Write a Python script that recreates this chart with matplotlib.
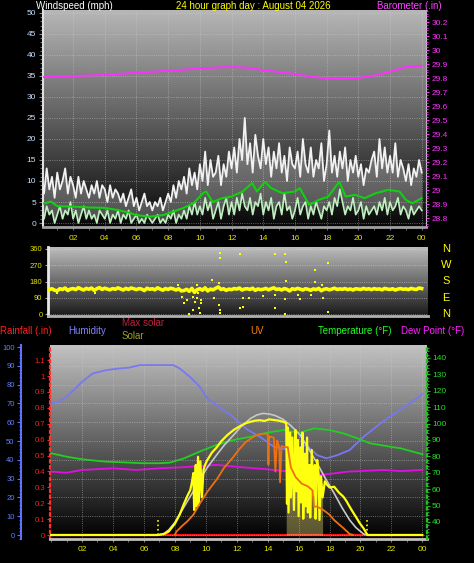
import numpy as np
import matplotlib
matplotlib.use("Agg")
import matplotlib.pyplot as plt
from matplotlib.ticker import MultipleLocator

plt.rcParams['font.family'] = ['Liberation Sans', 'DejaVu Sans']

W, H = 474, 563

# ---------------- data ----------------
# wind, 10 minute samples from 00:00 to 24:00 (mph)
gust = [10, 7, 13, 8, 11, 6, 12, 8, 10, 13, 7, 11, 9, 6, 11, 7, 10, 8,
        6, 9, 7, 10, 6, 9, 8, 5, 9, 6, 8, 7, 5, 7, 4, 6, 8, 4,
        6, 3, 5, 7, 4, 5, 3, 5, 4, 6, 3, 5, 7, 5, 9, 6, 10, 8,
        11, 7, 13, 9, 12, 8, 14, 10, 17, 9, 15, 11, 12, 16, 9, 14, 11, 17,
        13, 18, 12, 20, 15, 25, 14, 19, 12, 21, 16, 13, 20, 14, 18, 11, 17, 13,
        19, 12, 16, 10, 18, 14, 13, 17, 11, 20, 14, 12, 18, 11, 15, 13, 19, 10,
        14, 22, 12, 16, 11, 17, 13, 18, 10, 15, 12, 16, 11, 14, 9, 13, 12, 15,
        17, 11, 20, 13, 18, 12, 16, 12, 19, 11, 15, 13, 10, 14, 9, 13, 11, 15, 12]
wind = [3, 1, 4, 2, 3, 0, 2, 4, 1, 3, 2, 5, 1, 3, 0, 2, 4, 1,
        3, 1, 2, 0, 3, 2, 1, 3, 0, 2, 1, 3, 0, 2, 1, 3, 0, 1,
        2, 0, 1, 0, 2, 1, 0, 1, 2, 0, 1, 0, 2, 1, 3, 0, 2, 1,
        3, 1, 4, 2, 5, 2, 4, 2, 6, 3, 5, 1, 3, 5, 1, 4, 6, 2,
        5, 2, 6, 3, 7, 4, 3, 6, 2, 5, 4, 7, 2, 5, 3, 6, 1, 4,
        5, 2, 7, 3, 4, 1, 3, 6, 2, 4, 5, 1, 4, 2, 5, 3, 1, 4,
        3, 5, 2, 6, 4, 8, 5, 2, 4, 3, 6, 2, 3, 5, 1, 4, 2, 3,
        4, 2, 5, 3, 6, 2, 5, 3, 4, 6, 2, 4, 3, 1, 4, 2, 3, 4, 3]
t10 = np.arange(len(gust)) / 6.0

avg_t = [0, 0.6, 1, 2, 3, 4, 4.8, 5.5, 6, 6.8, 7.7, 8.3, 8.9, 9.6, 10.2, 10.4, 10.8,
         11.4, 12.0, 12.7, 13.3, 13.6, 14.1, 14.5, 15.2, 16, 16.3, 16.9, 17.5, 18.1,
         18.8, 19.2, 19.8, 20.4, 21.1, 21.9, 22.6, 23, 23.4, 24]
avg_v = [4.5, 5.1, 4.0, 3.9, 3.7, 3.6, 3.1, 2.5, 1.9, 1.5, 1.9, 2.7, 3.5, 4.7, 7.1, 7.5, 5.0,
         5.9, 6.3, 7.5, 9.5, 7.5, 9.8, 8.3, 7.1, 7.5, 8.3, 4.3, 5.5, 6.3,
         9.8, 6.3, 6.7, 5.9, 7.1, 7.9, 7.5, 5.5, 4.7, 5.9]

# barometer hourly (in)
baro_t = list(range(25))
baro = [29.807, 29.812, 29.815, 29.818, 29.822, 29.830, 29.838, 29.845, 29.852,
        29.860, 29.869, 29.875, 29.879, 29.874, 29.857, 29.843, 29.829, 29.810,
        29.798, 29.795, 29.800, 29.819, 29.845, 29.879, 29.888]

# wind direction, 10 minute samples (deg)
wdir = [142, 138, 145, 135, 140, 132, 128, 140, 136, 144, 130, 138,
        141, 135, 146, 139, 133, 142, 137, 144, 131, 140, 146, 136,
        143, 138, 134, 141, 137, 145, 139, 133, 142, 136, 144, 140,
        135, 141, 138, 130, 143, 137, 140, 134, 145, 138, 132, 141,
        136, 143, 139, 133, 140, 128, 130, 137, 126, 142, 120, 135,
        140, 132, 145, 128, 138, 134, 142, 150, 136, 140, 131, 138,
        135, 141, 138, 144, 133, 139, 140, 136, 143, 131, 139, 135,
        137, 142, 134, 140, 145, 136, 139, 133, 141, 137, 128, 140,
        136, 142, 138, 133, 140, 137, 131, 139, 135, 142, 129, 137,
        140, 134, 138, 143, 136, 139, 137, 141, 135, 139, 133, 140,
        138, 136, 142, 137, 140, 135, 141, 137, 139, 134, 142, 138,
        136, 140, 133, 138, 141, 137, 139, 135, 142, 138, 136, 144, 141]
# scattered direction readings
odir_t = [11.27, 11.27, 12.53, 14.73, 15.36, 15.45, 18.1, 17.3, 10.8, 11.2, 15.45,
          17.3, 17.7, 8.6, 9.8, 8.9, 9.0, 9.3, 9.6, 9.7, 9.8, 9.95, 10.0, 10.1,
          9.6, 9.9, 10.1, 9.2, 10.9, 11.2, 11.3, 11.3, 12.55, 12.7, 12.7, 13.1,
          14.0, 14.75, 14.73, 15.36, 15.38, 16.2, 16.3, 17.0, 17.8, 18.1, 1.0, 3.4]
odir_v = [340, 311, 333, 333, 333, 289, 285, 244, 189, 174, 183,
          178, 163, 163, 163, 96, 63, 0, 22, 68, 89, 35, 4, 59,
          96, 115, 78, 78, 87, 50, 22, 7, 31, 41, 87, 87,
          102, 35, 107, 81, 0, 107, 85, 107, 87, 13, 115, 118]

# bottom panel
hum_t = [0, 0.5, 0.9, 1.45, 2.0, 2.7, 3.6, 4.5, 5.0, 5.75, 7.9, 8.3, 9.0, 9.6, 10.1,
         10.7, 11.2, 11.6, 12.0, 12.7, 13.5, 14.4, 14.9, 15.5, 16.0, 16.5, 17.2, 17.8,
         18.5, 19.3, 20.2, 21.3, 21.9, 23.0, 24]
hum = [70, 71, 73, 77, 81.5, 86, 87.8, 88.7, 89, 90.4, 90.4, 88.7, 84, 79, 72.7,
       69, 66, 64, 61, 56, 52.3, 47, 46, 45.2, 46.5, 47.9, 42.5, 40.8,
       42.5, 45.2, 52.3, 59.4, 63, 69, 75]
temp_t = [0, 1, 2, 3.5, 5, 6, 7.0, 7.7, 8.6, 9.6, 10.7, 11.8, 12.9, 14, 15, 15.6,
          16.1, 17, 18, 18.9, 19.8, 20.6, 21.9, 22.6, 24]
temp = [81.9, 79.8, 78.2, 76.8, 76.2, 75.8, 75.8, 76.2, 78.8, 82.9, 87, 90, 92, 94.5,
        96, 95, 94.5, 97.1, 96, 94, 91, 88, 85.9, 84.9, 81.3]
dew_t = [0, 1, 2, 4, 5.5, 7, 8.6, 10.7, 12.3, 14, 16.1, 17.5, 19.2, 21.5, 22.6, 24]
dew = [70.7, 70, 71.7, 72.7, 71.7, 72.7, 73.4, 74.8, 73.4, 72.1, 70, 68.7, 70.7,
       71.7, 71, 71.7]
rain_t = [0, 24]
rain = [0, 0]
maxsol_t = [6.95, 7.3, 7.6, 8.0, 8.6, 9.1, 9.6, 10.1, 10.7, 11.2, 11.8, 12.3, 12.9,
            13.3, 13.7, 14.1, 14.5, 15.0, 15.5, 16.1, 16.6, 17.2, 17.7, 18.3, 18.8,
            19.3, 19.7, 20.2, 20.45]
maxsol = [0, 12, 40, 100, 226, 330, 440, 540, 640, 720, 800, 870, 933,
          960, 973, 968, 955, 925, 875, 800, 700, 573, 460, 333, 220,
          120, 60, 8, 0]
sol_t = [0, 6.9, 7.3, 7.6, 8.0, 8.3, 8.6, 8.8, 9.0, 9.1, 9.2, 9.25, 9.35, 9.4, 9.5,
         9.55, 9.65, 9.75, 9.85, 9.95, 10.1, 10.4, 10.7, 11.0, 11.4, 11.8, 12.2, 12.6,
         12.9, 13.2, 13.5, 13.8, 14.1, 14.4, 14.7, 15.0, 15.2, 15.25, 15.3, 15.35,
         15.45, 15.5, 15.6, 15.7, 15.8, 15.85, 15.95, 16.0, 16.1, 16.15, 16.25, 16.3,
         16.4, 16.45, 16.55, 16.6, 16.7, 16.75, 16.85, 16.95, 17.05, 17.1, 17.2, 17.3,
         17.35, 17.45, 17.55, 17.7, 17.85, 18.0, 18.3, 18.6, 18.9, 19.1, 19.3, 19.5,
         19.7, 19.95, 20.2, 20.45, 24]
sol = [0, 0, 8, 27, 90, 160, 253, 310, 360, 420, 496, 200, 560, 230, 626,
       240, 590, 300, 520, 560, 600, 660, 700, 750, 800, 840, 870, 895,
       906, 915, 918, 912, 925, 920, 915, 906, 895, 250, 860, 180,
       820, 300, 780, 200, 840, 350, 760, 150, 700, 260, 820, 130,
       650, 230, 780, 180, 560, 140, 680, 320, 560, 130, 600, 480,
       120, 470, 300, 430, 400, 380, 386, 340, 306, 270, 226, 185,
       146, 95, 53, 0, 0]
uv_t = [8.0, 8.1, 8.5, 8.8, 9.2, 9.6, 10.1, 10.7, 11.2, 11.8, 12.2, 12.6, 13.0, 13.3,
        13.7, 14.0, 14.05, 14.1, 14.4, 14.5, 14.6, 14.75, 14.8, 14.9, 15.1, 15.3, 15.5,
        15.8, 16.2, 16.6, 16.9, 17.0, 17.2, 17.6, 18.0, 18.3, 18.9, 19.3, 19.5]
uv = [0, 0.25, 0.7, 1.0, 1.5, 2.3, 3.2, 4.1, 5.0, 5.8, 6.4, 6.9, 7.2, 7.4,
      7.5, 7.5, 5.2, 7.3, 7.2, 4.7, 7.0, 6.5, 3.9, 6.6, 6.5, 6.5, 5.0,
      4.3, 3.8, 3.6, 3.3, 2.1, 2.1, 1.85, 1.5, 1.1, 0.5, 0.07, 0]
sunrise, sunset = 6.92, 20.44

hour_ticks = list(range(2, 25, 2))
hour_labels = ['%02d' % (h % 24) for h in hour_ticks]

# ---------------- figure ----------------
fig = plt.figure(figsize=(W / 100, H / 100), dpi=100, facecolor='black')


def px_axes(l, t, r, b):
    return fig.add_axes([l / W, 1 - b / H, (r - l) / W, (b - t) / H])


def gradient(ax, top, bottom):
    g = np.linspace(top, bottom, 256).reshape(-1, 1)
    ax.imshow(g, extent=[0, 1, 0, 1], transform=ax.transAxes, aspect='auto',
              cmap='gray', vmin=0, vmax=1, zorder=0, interpolation='bilinear')


def ftext(x, y, s, **kw):
    fig.text(x / W, 1 - y / H, s, va='center', **kw)


tick_fs = 6
xcol = '#e6e600'

# ---- top panel: wind speed + barometer ----
ax1 = px_axes(43, 10, 426, 227)
gradient(ax1, 0.72, 0.03)
ax1.fill_between(t10, wind, gust, color='white', alpha=0.28, lw=0, zorder=2)
ax1.plot(t10, gust, color='#f2f2f2', lw=1.3, zorder=3)
ax1.plot(t10, wind, color='#bff0bf', lw=1.2, zorder=4)
ax1.plot(avg_t, avg_v, color='#10d010', lw=1.5, zorder=5)
ax1.set_xlim(0.1, 24.27)
ax1.set_ylim(-0.95, 50.7)
ax1.yaxis.set_major_locator(MultipleLocator(5))
ax1.yaxis.set_minor_locator(MultipleLocator(1))
ax1.set_xticks(hour_ticks)
ax1.set_xticklabels(hour_labels)
ax1.xaxis.set_minor_locator(MultipleLocator(1))
ax1.tick_params(axis='y', colors='#8a8a8a', labelcolor='#c8e0ff', labelsize=tick_fs,
                length=3, width=0.8, pad=2)
ax1.tick_params(axis='y', which='minor', colors='#8a8a8a', length=2)
ax1.tick_params(axis='x', colors='#707070', labelcolor=xcol, labelsize=tick_fs,
                length=2, pad=4)
ax1.tick_params(axis='x', which='minor', colors='#707070', length=2)
ax1.grid(True, which='major', color='#d0d0d0', ls=':', lw=0.6, alpha=0.6)
ax1.spines['top'].set_visible(False)
ax1.spines['left'].set_color('#e0e0e0')
ax1.spines['left'].set_linewidth(1.5)
ax1.spines['bottom'].set_color('#a0a0a0')
ax1.spines['bottom'].set_linewidth(2)
ax1.spines['right'].set_color('#c0c0c0')

axb = ax1.twinx()
axb.plot(baro_t, baro, color='#ff30ff', lw=1.4)
axb.set_ylim(28.736, 30.286)
axb.set_yticks(np.arange(28.8, 30.25, 0.1))
axb.set_yticklabels(['%g' % round(v, 1) for v in np.arange(28.8, 30.25, 0.1)])
axb.yaxis.set_minor_locator(MultipleLocator(0.02))
axb.tick_params(axis='y', colors='#ff30ff', labelcolor='#ff30ff', labelsize=tick_fs,
                length=2, pad=2)
axb.tick_params(axis='y', which='minor', colors='#ff30ff', length=1.5)
for s in axb.spines.values():
    s.set_visible(False)

ftext(36, 6, 'Windspeed (mph)', color='white', fontsize=7)
ftext(176, 6, '24 hour graph day : August 04 2026', color='#ffff00', fontsize=7)
ftext(377, 6, 'Barometer (.in)', color='#ff40ff', fontsize=7)

# ---- wind direction panel ----
ax2 = px_axes(48, 247, 428, 316)
gradient(ax2, 0.74, 0.1)
ax2.plot(t10, wdir, color='#ffff00', lw=2.6, zorder=3)
ax2.scatter(t10, wdir, color='#ffff00', s=3, marker='s', lw=0, zorder=3)
ax2.scatter(odir_t, odir_v, color='#ffff00', s=3, marker='s', lw=0, zorder=3)
ax2.set_xlim(0.42, 24.4)
ax2.set_ylim(-11, 371)
ax2.set_yticks([0, 90, 180, 270, 360])
ax2.set_xticks([])
ax2.tick_params(axis='y', colors='#a0a0a0', labelcolor=xcol, labelsize=5.5,
                length=2, pad=2)
ax2.grid(True, axis='y', color='#e0e0e0', ls=':', lw=0.6, alpha=0.6)
ax2.spines['top'].set_visible(False)
ax2.spines['right'].set_visible(False)
ax2.spines['left'].set_color('#e8e8e8')
ax2.spines['left'].set_linewidth(2)
ax2.spines['bottom'].set_color('#b0b0b0')
ax2.spines['bottom'].set_linewidth(2)
for lab, y in zip(['N', 'W', 'S', 'E', 'N'], [249, 265, 281, 298, 314]):
    ftext(446, y, lab, color='#ffff00', fontsize=8, ha='center')

# ---- legend row ----
ftext(0, 331, 'Rainfall (.in)', color='#ff2020', fontsize=7)
ftext(68, 331, 'Humidity', color='#8080ff', fontsize=7)
ftext(122, 323, 'Max solar', color='#c0203c', fontsize=7)
ftext(122, 336, 'Solar', color='#a0a020', fontsize=7)
ftext(250, 331, 'UV', color='#ff8000', fontsize=7)
ftext(318, 331, 'Temperature (°F)', color='#20ff20', fontsize=7)
ftext(401, 331, 'Dew Point (°F)', color='#ff20ff', fontsize=7)

# ---- bottom panel ----
ax3 = px_axes(50, 345, 427, 539)
gradient(ax3, 0.76, 0.0)
ax3.plot(rain_t, rain, color='#ff1010', lw=1.6, zorder=2)
ax3.set_xlim(-0.07, 24.3)
ax3.set_ylim(-0.025, 1.195)
ax3.set_yticks(np.arange(0, 1.15, 0.1))
ax3.set_yticklabels(['%g' % round(v, 1) for v in np.arange(0, 1.15, 0.1)])
ax3.set_xticks(hour_ticks)
ax3.set_xticklabels(hour_labels)
ax3.xaxis.set_minor_locator(MultipleLocator(1))
ax3.tick_params(axis='y', colors='#ff2020', labelcolor='#ff2020', labelsize=5.5,
                length=2, pad=1.5)
ax3.tick_params(axis='x', colors='#808080', labelcolor=xcol, labelsize=tick_fs,
                length=2, pad=3)
ax3.tick_params(axis='x', which='minor', colors='#808080', length=2)
ax3.grid(True, axis='x', color='#d0d0d0', ls=':', lw=0.6, alpha=0.6)
ax3.spines['top'].set_visible(False)
ax3.spines['right'].set_visible(False)
ax3.spines['left'].set_color('#ff3030')
ax3.spines['left'].set_linestyle(':')
ax3.spines['left'].set_linewidth(1.6)
ax3.spines['bottom'].set_color('#c0c0c0')
ax3.spines['bottom'].set_linewidth(2)

axh = ax3.twinx()
axh.plot(hum_t, hum, color='#7878f0', lw=1.3)
axh.set_ylim(-2.1, 101.1)
axh.yaxis.tick_left()
axh.yaxis.set_major_locator(MultipleLocator(10))
axh.yaxis.set_minor_locator(MultipleLocator(2))
axh.grid(True, axis='y', color='#d0d0d0', ls=':', lw=0.6, alpha=0.6)
axh.spines['left'].set_visible(True)
axh.spines['left'].set_position(('outward', 21))
axh.spines['left'].set_color('#6070ff')
axh.spines['left'].set_linewidth(1.5)
axh.spines['right'].set_visible(False)
axh.spines['top'].set_visible(False)
axh.spines['bottom'].set_visible(False)
axh.tick_params(axis='y', colors='#6070ff', labelcolor='#6080ff', labelsize=5.5,
                length=3, pad=1.5)
axh.tick_params(axis='y', which='minor', colors='#6070ff', length=1.5)

axt = ax3.twinx()
axt.plot(temp_t, temp, color='#20d020', lw=1.3)
axt.plot(dew_t, dew, color='#e010e0', lw=1.3)
axt.set_ylim(29.6, 147.9)
axt.yaxis.set_minor_locator(MultipleLocator(2))
axt.set_yticks(range(40, 141, 10))
axt.tick_params(axis='y', colors='#20c020', labelcolor='#20e020', labelsize=tick_fs,
                length=2, pad=1.5)
axt.tick_params(axis='y', which='minor', colors='#20c020', length=1.5)
for s in ['left', 'top', 'bottom']:
    axt.spines[s].set_visible(False)
axt.spines['right'].set_color('#20c020')
axt.spines['right'].set_linestyle(':')
axt.spines['right'].set_linewidth(1.6)

axs = ax3.twinx()
axs.plot(maxsol_t, maxsol, color='#c8c8c8', lw=1.2)
axs.fill_between(sol_t, 0, sol, where=[15.1 <= t <= 17.6 for t in sol_t],
                 color='#fff080', alpha=0.35, lw=0)
axs.plot(sol_t, sol, color='#ffff10', lw=1.6)
axs.vlines([sunrise, sunset], 0, 120, colors='#ffff00', linestyles=':', lw=1.2)
axs.set_ylim(-32, 1520)
axs.axis('off')

axu = ax3.twinx()
axu.plot(uv_t, uv, color='#f07010', lw=1.3)
axu.set_ylim(-0.3, 14.07)
axu.axis('off')

fig.savefig('out.png', dpi=100, facecolor='black')
